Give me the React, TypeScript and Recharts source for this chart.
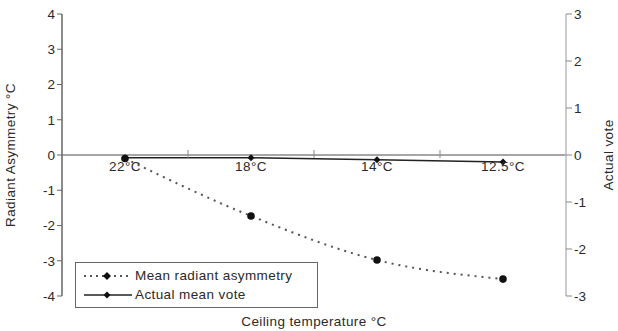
import React from 'react';
import { ComposedChart, Line, XAxis, YAxis, ReferenceLine } from 'recharts';

const categories = ['22°C', '18°C', '14°C', '12.5°C'];
const meanRadiantAsymmetry = [-0.1, -1.73, -2.98, -3.52];
const actualMeanVote = [-0.06, -0.06, -0.1, -0.15];
const leftTicks = [-4, -3, -2, -1, 0, 1, 2, 3, 4];
const rightTicks = [-3, -2, -1, 0, 1, 2, 3];
const seriesNames = ['Mean radiant asymmetry', 'Actual mean vote'];

const data = categories.map((c, i) => ({
  cat: c,
  mra: meanRadiantAsymmetry[i],
  vote: actualMeanVote[i],
}));

const W = 618;
const H = 331;
const M = { top: 14, right: 0, bottom: 0, left: 0 };
const LEFT_W = 62;
const RIGHT_W = 52;
const XAXIS_H = 35;
const plotTop = M.top;
const plotH = H - M.top - M.bottom - XAXIS_H;
const plotW = W - LEFT_W - RIGHT_W;
const zeroY = plotTop + plotH / 2;
const band = plotW / categories.length;
const FONT = 'Liberation Sans, Arial, sans-serif';
const FS = 13.5;
const LS = 0.4;
const TXT = '#2a2a2a';

const XTick = (props: any) => {
  const { x, payload, index } = props;
  return (
    <g>
      <text x={x} y={zeroY + 16} textAnchor="middle" fontSize={FS} fill={TXT} fontFamily={FONT} letterSpacing={LS}>
        {payload.value}
      </text>
      {index < categories.length - 1 && (
        <line x1={x + band / 2} x2={x + band / 2} y1={zeroY - 5} y2={zeroY + 3} stroke="#888" strokeWidth={1} />
      )}
    </g>
  );
};

const BigDot = (props: any) => {
  const { cx, cy } = props;
  if (cx == null || cy == null) return null;
  return <circle cx={cx} cy={cy} r={3.8} fill="#111" />;
};

const Diamond = (props: any) => {
  const { cx, cy } = props;
  if (cx == null || cy == null) return null;
  const s = 3.5;
  return <path d={`M${cx},${cy - s}L${cx + s},${cy}L${cx},${cy + s}L${cx - s},${cy}Z`} fill="#111" />;
};

const LegendBox = () => (
  <div
    style={{
      position: 'absolute',
      left: 75,
      top: 262,
      border: '1px solid #666',
      width: 243,
      height: 46,
      boxSizing: 'border-box',
      fontFamily: FONT,
      fontSize: FS,
      letterSpacing: LS,
      color: TXT,
      padding: '3px 0 0 6px',
      background: '#fff',
    }}
  >
    <div style={{ display: 'flex', alignItems: 'center', height: 19 }}>
      <svg width={52} height={12}>
        <line x1={2} x2={50} y1={6} y2={6} stroke="#555" strokeWidth={2} strokeDasharray="2 4" />
        <path d="M25,2L29,6L25,10L21,6Z" fill="#111" />
      </svg>
      <span style={{ marginLeft: 1 }}>{seriesNames[0]}</span>
    </div>
    <div style={{ display: 'flex', alignItems: 'center', height: 19 }}>
      <svg width={52} height={12}>
        <line x1={2} x2={50} y1={6} y2={6} stroke="#222" strokeWidth={1.5} />
        <path d="M25,2.5L28.5,6L25,9.5L21.5,6Z" fill="#111" />
      </svg>
      <span style={{ marginLeft: 1 }}>{seriesNames[1]}</span>
    </div>
  </div>
);

export default function App() {
  return (
    <div style={{ position: 'absolute', left: 0, top: 0, width: W, height: H, background: '#fff' }}>
      <ComposedChart width={W} height={H} data={data} margin={M}>
        <XAxis
          dataKey="cat"
          scale="band"
          height={XAXIS_H}
          axisLine={false}
          tickLine={false}
          tick={<XTick />}
          interval={0}
          label={{
            value: 'Ceiling temperature °C',
            position: 'insideBottom',
            offset: 5,
            fontSize: FS,
            fill: TXT,
            fontFamily: FONT,
            letterSpacing: LS,
          }}
        />
        <YAxis
          yAxisId="left"
          orientation="left"
          width={LEFT_W}
          domain={[-4, 4]}
          ticks={leftTicks}
          interval={0}
          axisLine={{ stroke: '#666', strokeWidth: 1.5 }}
          tickLine={{ stroke: '#666' }}
          tickSize={5}
          tick={{ fontSize: FS, fill: TXT, fontFamily: FONT }}
          label={{
            value: 'Radiant Asymmetry °C',
            angle: -90,
            position: 'insideLeft',
            offset: 10,
            style: { textAnchor: 'middle' },
            fontSize: FS,
            fill: TXT,
            fontFamily: FONT,
            letterSpacing: LS,
          }}
        />
        <YAxis
          yAxisId="right"
          orientation="right"
          width={RIGHT_W}
          domain={[-3, 3]}
          ticks={rightTicks}
          interval={0}
          axisLine={{ stroke: '#bbb', strokeWidth: 1.5 }}
          tickLine={{ stroke: '#888' }}
          tickSize={6}
          tick={{ fontSize: FS, fill: TXT, fontFamily: FONT }}
          label={{
            value: 'Actual vote',
            angle: -90,
            position: 'insideRight',
            offset: 10,
            style: { textAnchor: 'middle' },
            fontSize: FS,
            fill: TXT,
            fontFamily: FONT,
            letterSpacing: LS,
          }}
        />
        <ReferenceLine yAxisId="left" y={0} stroke="#888" strokeWidth={1.5} />
        <Line
          yAxisId="left"
          dataKey="mra"
          name={seriesNames[0]}
          type="monotone"
          stroke="#555"
          strokeWidth={2}
          strokeDasharray="2 5"
          dot={<BigDot />}
          isAnimationActive={false}
        />
        <Line
          yAxisId="right"
          dataKey="vote"
          name={seriesNames[1]}
          type="linear"
          stroke="#222"
          strokeWidth={1.5}
          dot={<Diamond />}
          isAnimationActive={false}
        />
      </ComposedChart>
      <LegendBox />
    </div>
  );
}
